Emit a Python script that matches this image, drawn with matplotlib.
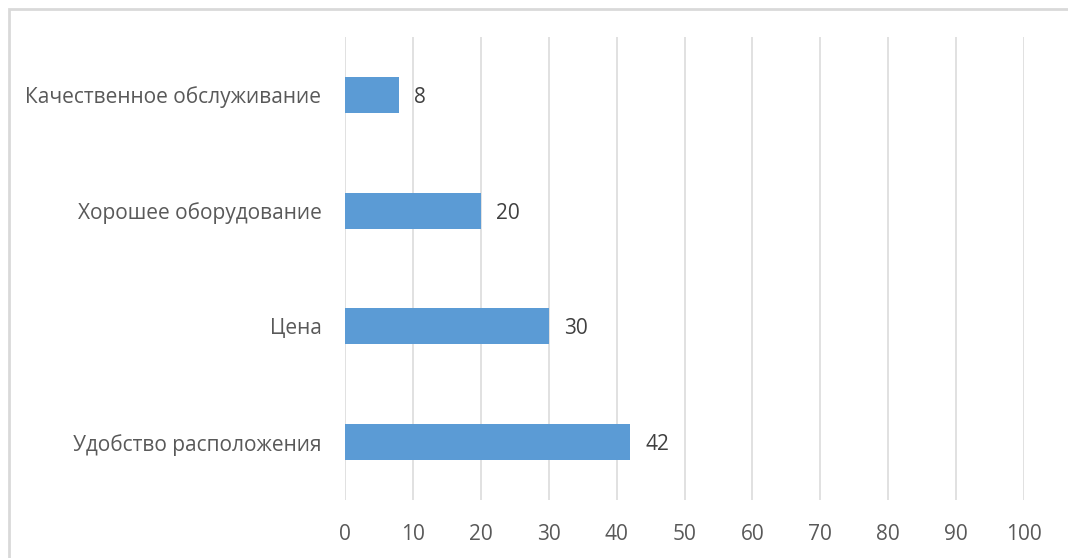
import matplotlib
matplotlib.use("Agg")
import matplotlib.pyplot as plt
from matplotlib.patches import Rectangle

categories = ["Удобство расположения", "Цена", "Хорошее оборудование", "Качественное обслуживание"]
values = [42, 30, 20, 8]
xticks = [0, 10, 20, 30, 40, 50, 60, 70, 80, 90, 100]

plt.rcParams['font.family'] = ['Open Sans', 'DejaVu Sans']
text_color = '#595959'

fig = plt.figure(figsize=(10.68, 5.58), dpi=100)
ax = fig.add_axes([345 / 1068, 1 - 500 / 558, (1024 - 345) / 1068, (500 - 37) / 558])

y = range(len(categories))
ax.barh(y, values, height=0.31, color='#5b9bd5', zorder=3)
for yi, v in zip(y, values):
    ax.text(v + 2.2, yi, str(v), va='center_baseline', ha='left', fontsize=15, color='#404040')

ax.set_xlim(0, 100)
ax.set_ylim(-0.5, len(categories) - 0.5)
ax.set_xticks(xticks)
ax.set_yticks(list(y))
ax.set_yticklabels(categories)
ax.tick_params(axis='both', length=0, labelsize=15, colors=text_color)
ax.tick_params(axis='x', pad=17)
ax.tick_params(axis='y', pad=17)
ax.grid(axis='x', color='#d9d9d9', linewidth=1.1, zorder=0)
for s in ax.spines.values():
    s.set_visible(False)

# light frame around the chart area
fig.patches.append(Rectangle((9 / 1068, -0.1), 1.2, 1 - 9 / 558 + 0.1, transform=fig.transFigure,
                             fill=False, edgecolor='#d9d9d9', linewidth=2))

fig.savefig('out.png', dpi=100)
